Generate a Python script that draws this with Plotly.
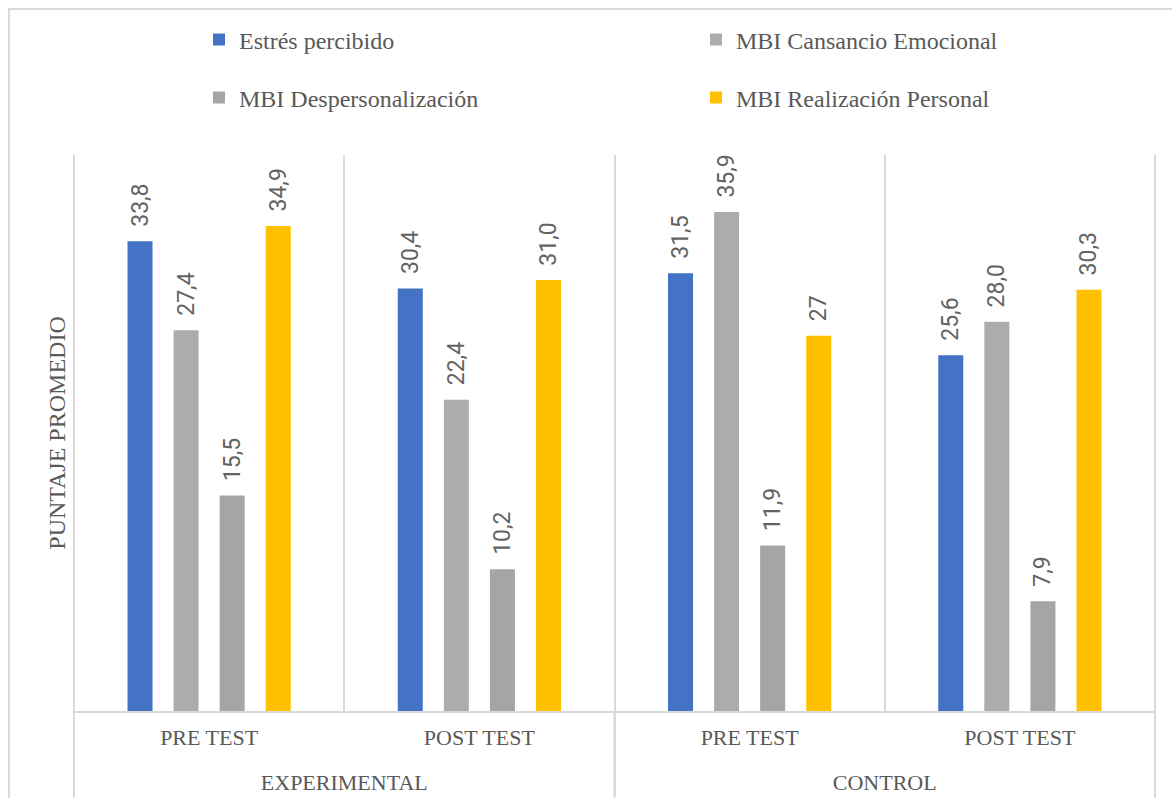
import plotly.graph_objects as go

groups = ["EXPERIMENTAL", "EXPERIMENTAL", "CONTROL", "CONTROL"]
phases = ["PRE TEST", "POST TEST", "PRE TEST", "POST TEST"]

series_names = ["Estrés percibido", "MBI Cansancio Emocional",
                "MBI Despersonalización", "MBI Realización Personal"]
estres = [33.8, 30.4, 31.5, 25.6]
cansancio = [27.4, 22.4, 35.9, 28.0]
despers = [15.5, 10.2, 11.9, 7.9]
realizacion = [34.9, 31.0, 27.0, 30.3]

estres_lbl = ["33,8", "30,4", "31,5", "25,6"]
cansancio_lbl = ["27,4", "22,4", "35,9", "28,0"]
despers_lbl = ["15,5", "10,2", "11,9", "7,9"]
realizacion_lbl = ["34,9", "31,0", "27", "30,3"]

colors = ["#4472C4", "#AEABAB", "#A5A5A5", "#FFC000"]
values = [estres, cansancio, despers, realizacion]
labels = [estres_lbl, cansancio_lbl, despers_lbl, realizacion_lbl]
legend_ids = ["legend", "legend2", "legend3", "legend4"]

TXT = "#595959"
GRID = "#D9D9D9"
SERIF = "Liberation Serif, Times New Roman, serif"

# inner category labels get a tiny second line so the outer level sits lower
phase_disp = [p + "<br><span style='font-size:1px'>\u00a0</span>" for p in phases]

fig = go.Figure()
for name, vals, lbls, col, lg in zip(series_names, values, labels, colors, legend_ids):
    fig.add_trace(go.Bar(
        name=name,
        x=[groups, phase_disp],
        y=vals,
        text=["\u00a0\u00a0" + t for t in lbls],
        textposition="outside",
        textangle=-90,
        constraintext="none",
        cliponaxis=False,
        textfont=dict(family="Liberation Sans Narrow, Roboto, sans-serif", size=23, color="#636363"),
        marker=dict(color=col, line=dict(width=0)),
        legend=lg,
        showlegend=True,
        hoverinfo="skip",
    ))

W, H = 1172, 798
L, R, T, B = 74, 17, 155, 87
pw = W - L - R
ph = H - T - B

def px_x(x):
    return (x - L) / pw

def px_y(y):
    return (H - B - y) / ph

def legend_box(xpx, ypx):
    return dict(
        orientation="h", x=px_x(xpx), xanchor="left",
        y=px_y(ypx), yanchor="middle",
        font=dict(family=SERIF, size=24, color=TXT),
        bgcolor="rgba(0,0,0,0)", borderwidth=0,
    )

line_style = dict(color=GRID, width=2)
shapes = [
    dict(type="rect", xref="paper", yref="paper",
         x0=px_x(9), x1=px_x(1190), y0=px_y(820), y1=px_y(9),
         line=line_style, layer="below"),
]
for xp in (0, 0.5, 1):
    shapes.append(dict(type="line", xref="paper", yref="paper",
                       x0=xp, x1=xp, y0=px_y(800), y1=(1 if xp != 0.5 else 0),
                       line=line_style, layer="below"))

fig.update_layout(
    width=W, height=H,
    showlegend=True,
    margin=dict(l=L, r=R, t=T, b=B, autoexpand=False),
    paper_bgcolor="white",
    plot_bgcolor="white",
    barmode="group",
    bargap=0.318,
    bargroupgap=0.457,
    font=dict(family=SERIF, color=TXT),
    legend=legend_box(199, 40),
    legend2=legend_box(696, 40),
    legend3=legend_box(199, 98),
    legend4=legend_box(696, 98),
    xaxis=dict(
        type="multicategory",
        tickson="boundaries",
        showgrid=True, gridcolor=GRID, gridwidth=1.5,
        showline=True, linecolor=GRID, linewidth=2,
        showdividers=True, dividercolor=GRID, dividerwidth=2,
        ticks="",
        ticklabelstandoff=6,
        tickfont=dict(family=SERIF, size=22, color=TXT),
    ),
    yaxis=dict(
        range=[0, 40],
        showgrid=False, zeroline=False, showline=False,
        showticklabels=False, ticks="",
        title=dict(text="PUNTAJE PROMEDIO", standoff=0,
                   font=dict(family=SERIF, size=24, color=TXT)),
    ),
    shapes=shapes,
)

fig.write_html("out.html")
